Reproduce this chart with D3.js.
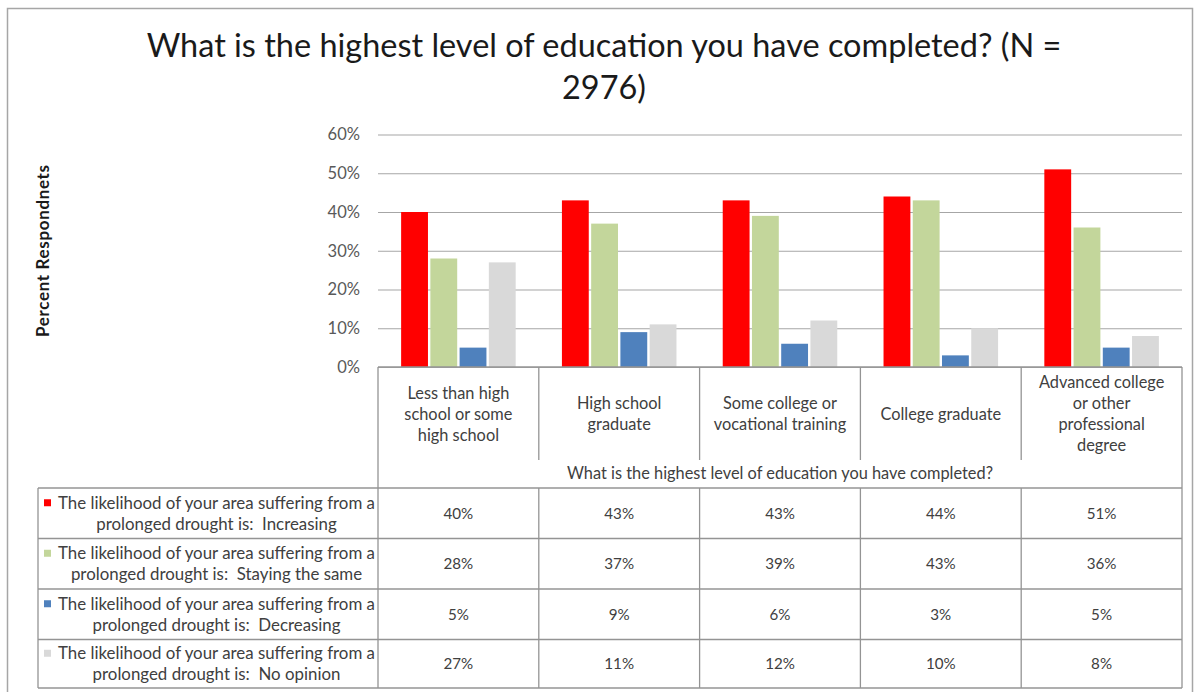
<!DOCTYPE html>
<html><head><meta charset="utf-8">
<script src="https://cdn.jsdelivr.net/npm/d3@7"></script>
<style>body{margin:0;background:#fff;} svg{display:block;font-family:Lato,"Open Sans",sans-serif;}</style>
</head><body><svg id="c" width="1195" height="692"></svg>
<script>
// ---------- data ----------
const titleLines = ["What is the highest level of education you have completed? (N =", "2976)"];
const yAxisTitle = "Percent Respondnets";
const categories = ["Less than high school or some high school", "High school graduate", "Some college or vocational training", "College graduate", "Advanced college or other professional degree"];
const categoryLines = [["Less than high", "school or some", "high school"], ["High school", "graduate"], ["Some college or", "vocational training"], ["College graduate"], ["Advanced college", "or other", "professional", "degree"]];
const xAxisTitle = "What is the highest level of education you have completed?";
const seriesNames = ["Increasing", "Staying the same", "Decreasing", "No opinion"];
const seriesLabelLine1 = "The likelihood of your area suffering from a";
const seriesLabelLine2 = "prolonged drought is:\u00a0 ";
const increasing = [40, 43, 43, 44, 51];
const stayingSame = [28, 37, 39, 43, 36];
const decreasing = [5, 9, 6, 3, 5];
const noOpinion = [27, 11, 12, 10, 8];
const yTicks = [0, 10, 20, 30, 40, 50, 60];
const colors = ["#ff0000", "#c3d69b", "#4f81bd", "#d9d9d9"];

const seriesValues = [increasing, stayingSame, decreasing, noOpinion];

// ---------- layout ----------
const svg = d3.select("#c");
const plotL = 378, plotR = 1182, plotT = 134.5, plotB = 367;
const headerBottom = 460, tableTop = 488, tableBottom = 688, tableLeft = 38;
const rowEdges = [488, 538.5, 589, 639.5, 688];
const lineColor = "#949494";

function fitSize(str, target, weight) {
  const t = svg.append("text").attr("font-size", 100).attr("font-weight", weight || "normal").text(str);
  const w = t.node().getComputedTextLength();
  t.remove();
  return 100 * target / w;
}

const titleSize = fitSize(titleLines[0], 915);
const smallSize = fitSize(seriesLabelLine1, 317);
const yTitleSize = fitSize(yAxisTitle, 160, "bold");

// outer frame
svg.append("rect").attr("x", 7.5).attr("y", 8.5).attr("width", 1185).attr("height", 720)
  .attr("fill", "none").attr("stroke", "#a6a6a6").attr("stroke-width", 1.5);

// title
svg.append("g").selectAll("text").data(titleLines).join("text")
  .attr("x", 604).attr("y", (d, i) => 57 + i * 42)
  .attr("text-anchor", "middle").attr("font-size", titleSize).attr("fill", "#1a1a1a").text(d => d);

// scales
const y = d3.scaleLinear().domain([0, 60]).range([plotB, plotT]);
const x0 = d3.scaleBand().domain(categories).range([plotL, plotR]).padding(0);
const x1 = d3.scaleBand().domain(seriesNames).range([0, x0.bandwidth()]).paddingInner(0).paddingOuter(0.75);

// grid + y axis
const yAxis = d3.axisLeft(y).tickValues(yTicks).tickFormat(d => d + "%").tickSize(-(plotR - plotL)).tickPadding(18);
const ga = svg.append("g").attr("transform", `translate(${plotL},0)`).call(yAxis);
ga.select(".domain").remove();
ga.selectAll(".tick line").attr("stroke", "#a6a6a6").attr("stroke-width", 1.2);
ga.selectAll(".tick text").attr("font-size", smallSize * 0.98).attr("fill", "#595959").attr("font-family", "Lato,'Open Sans',sans-serif");

// y title
svg.append("text").attr("transform", "translate(49,251) rotate(-90)")
  .attr("text-anchor", "middle").attr("font-weight", "bold").attr("font-size", yTitleSize)
  .attr("fill", "#1a1a1a").attr("textLength", 172).attr("lengthAdjust", "spacing").text(yAxisTitle);

// bars
const barData = [];
categories.forEach((c, ci) => seriesNames.forEach((s, si) => barData.push({ c, s, si, v: seriesValues[si][ci] })));
svg.append("g").selectAll("rect").data(barData).join("rect")
  .attr("x", d => x0(d.c) + x1(d.s) + 1.2)
  .attr("width", x1.bandwidth() - 2.4)
  .attr("y", d => y(d.v))
  .attr("height", d => y(0) - y(d.v))
  .attr("fill", d => colors[d.si]);

// table lines
const gl = svg.append("g").attr("stroke", lineColor).attr("stroke-width", 1.3).attr("fill", "none");
gl.append("line").attr("x1", plotL).attr("x2", plotR).attr("y1", plotB).attr("y2", plotB);
gl.append("line").attr("x1", plotL).attr("x2", plotL).attr("y1", plotB).attr("y2", tableBottom);
gl.append("line").attr("x1", plotR).attr("x2", plotR).attr("y1", plotB).attr("y2", tableBottom);
gl.append("line").attr("x1", tableLeft).attr("x2", tableLeft).attr("y1", tableTop).attr("y2", tableBottom);
categories.slice(1).forEach(c => {
  gl.append("line").attr("x1", x0(c)).attr("x2", x0(c)).attr("y1", plotB).attr("y2", headerBottom);
  gl.append("line").attr("x1", x0(c)).attr("x2", x0(c)).attr("y1", tableTop).attr("y2", tableBottom);
});
rowEdges.forEach(r => gl.append("line").attr("x1", tableLeft).attr("x2", plotR).attr("y1", r).attr("y2", r));

// category header labels
const lh = 21;
const gc = svg.append("g").attr("font-size", smallSize * 0.97).attr("fill", "#404040").attr("text-anchor", "middle");
categories.forEach((c, ci) => {
  const lines = categoryLines[ci];
  const cx = x0(c) + x0.bandwidth() / 2;
  const cy = 414;
  lines.forEach((l, li) => {
    gc.append("text").attr("x", cx).attr("y", cy + (li - (lines.length - 1) / 2) * lh).attr("dy", "0.35em").text(l);
  });
});
gc.append("text").attr("x", (plotL + plotR) / 2).attr("y", 473).attr("dy", "0.35em").text(xAxisTitle);

// row labels + legend keys + values
const gr = svg.append("g").attr("font-size", smallSize).attr("fill", "#404040");
const textCx = 216.5;
seriesNames.forEach((s, si) => {
  const rc = (rowEdges[si] + rowEdges[si + 1]) / 2;
  gr.append("text").attr("x", textCx).attr("y", rc - 10.5).attr("dy", "0.35em").attr("text-anchor", "middle").text(seriesLabelLine1);
  gr.append("text").attr("x", textCx).attr("y", rc + 10.5).attr("dy", "0.35em").attr("text-anchor", "middle").text(seriesLabelLine2 + s);
  gr.append("rect").attr("x", textCx - 158.5 - 14).attr("y", rc - 10.5 - 3.5).attr("width", 7).attr("height", 7).attr("fill", colors[si]);
  categories.forEach((c, ci) => {
    gr.append("text").attr("x", x0(c) + x0.bandwidth() / 2).attr("y", rc).attr("dy", "0.35em")
      .attr("font-size", smallSize * 0.9)
      .attr("text-anchor", "middle").text(seriesValues[si][ci] + "%");
  });
});
</script>
</body></html>
